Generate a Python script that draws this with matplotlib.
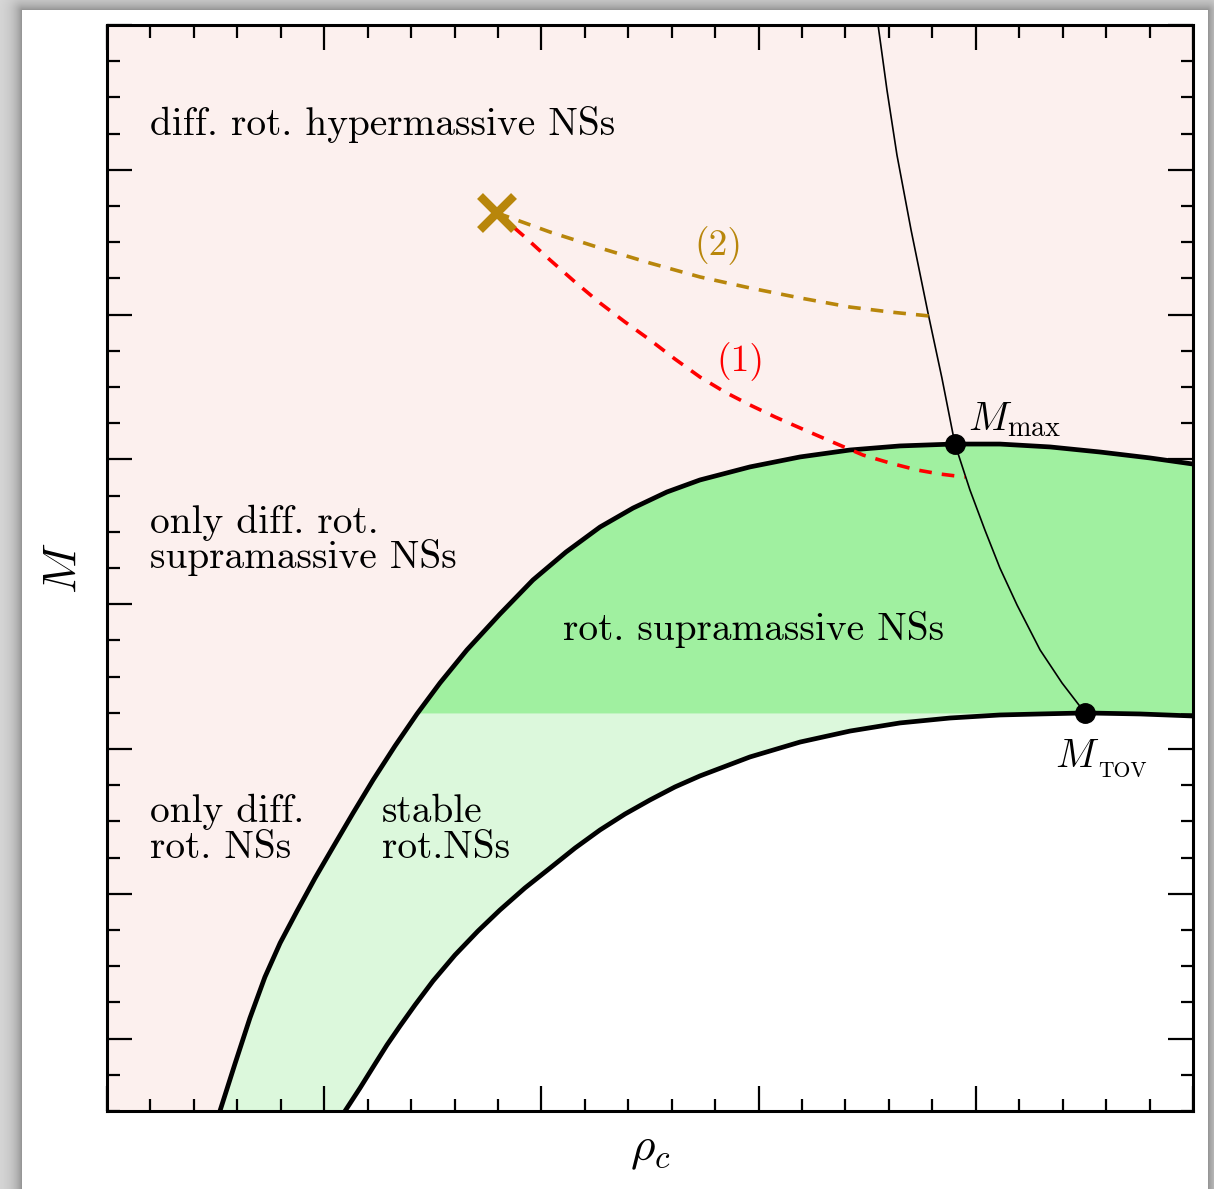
import matplotlib
matplotlib.use("Agg")
import matplotlib.pyplot as plt
import numpy as np

plt.rcParams["font.family"] = "serif"
plt.rcParams["font.serif"] = ["cmr10"]
plt.rcParams["mathtext.fontset"] = "cm"
plt.rcParams["axes.unicode_minus"] = False

# upper boundary: maximum mass of uniformly rotating stars
upper_x = [0.520, 0.589, 0.658, 0.727, 0.797, 0.875, 0.958, 1.041, 1.133,
           1.225, 1.326, 1.427, 1.533, 1.657, 1.809, 1.961, 2.113, 2.270, 2.422,
           2.578, 2.730, 2.960, 3.191, 3.421, 3.651, 3.895, 4.111, 4.342, 4.572,
           4.802, 5.000]
upper_y = [0.000, 0.325, 0.642, 0.925, 1.160, 1.381, 1.609, 1.823, 2.058,
           2.286, 2.521, 2.742, 2.956, 3.184, 3.432, 3.667, 3.860, 4.033, 4.164,
           4.275, 4.358, 4.448, 4.517, 4.565, 4.593, 4.606, 4.606, 4.586, 4.551,
           4.510, 4.468]

# lower boundary: non-rotating (TOV) sequence
lower_x = [1.096, 1.165, 1.234, 1.289, 1.349, 1.418, 1.501, 1.602, 1.708, 1.809,
           1.924, 2.040, 2.155, 2.270, 2.385, 2.500, 2.615, 2.730, 2.960, 3.191,
           3.421, 3.651, 3.881, 4.111, 4.296, 4.503, 4.756, 5.000]
lower_y = [0.000, 0.159, 0.325, 0.456, 0.587, 0.732, 0.898, 1.077, 1.243, 1.388,
           1.540, 1.678, 1.816, 1.941, 2.051, 2.148, 2.238, 2.314, 2.445, 2.548,
           2.624, 2.680, 2.714, 2.735, 2.742, 2.749, 2.742, 2.728]

# stability line joining M_max and M_TOV
thin_x = [3.550, 3.591, 3.637, 3.702, 3.780, 3.844, 3.904, 3.973, 4.042, 4.111,
          4.190, 4.296, 4.397, 4.503]
thin_y = [7.500, 7.051, 6.602, 6.084, 5.511, 5.062, 4.606, 4.289, 4.012, 3.750,
          3.494, 3.184, 2.956, 2.749]

# evolution paths (1) and (2)
path1_x = [1.796, 1.924, 2.040, 2.155, 2.270, 2.385, 2.500, 2.615, 2.730, 2.845,
           2.960, 3.076, 3.191, 3.329, 3.481, 3.605, 3.729, 3.835, 3.950]
path1_y = [6.202, 6.036, 5.877, 5.725, 5.580, 5.449, 5.325, 5.193, 5.069, 4.965,
           4.876, 4.793, 4.717, 4.627, 4.530, 4.475, 4.427, 4.399, 4.378]
path2_x = [1.796, 2.040, 2.270, 2.500, 2.730, 2.960, 3.191, 3.421, 3.605, 3.789]
path2_y = [6.202, 6.070, 5.960, 5.856, 5.760, 5.684, 5.615, 5.552, 5.518, 5.490]

m_tov = 2.749
mmax_x, mmax_y = 3.904, 4.606
tov_x, tov_y = 4.503, 2.749
start_x, start_y = 1.796, 6.202

pink = "#fcf0ee"
dark_green = "#a0f0a0"
light_green = "#dcf8dc"
gold = "#b8860b"

W, H = 1214, 1189
fig = plt.figure(figsize=(W / 100, H / 100), dpi=100)

# drop shadow behind the white card
yy, xx = np.mgrid[0:H, 0:W]
dx = np.maximum.reduce([22 - xx, np.zeros_like(xx), xx - 1207])
dy = np.maximum(10 - yy, 0)
d = np.hypot(dx, dy)
shade = np.where(d > 0, 0.86 - 0.3 * np.exp(-d / 9.0), 1.0)
fig.figimage(np.dstack([shade] * 3), 0, 0, origin="upper", zorder=-1)
fig.patch.set_alpha(0)

ax = fig.add_axes([107 / W, 1 - 1111 / H, 1086 / W, 1086 / H])
ax.set_facecolor(pink)

ax.fill(np.concatenate([upper_x, lower_x[::-1]]),
        np.concatenate([upper_y, lower_y[::-1]]),
        color=light_green, lw=0, zorder=1)
ax.fill_between(lower_x, 0, lower_y, color="white", lw=0, zorder=1)
uy = np.array(upper_y)
ax.fill_between(upper_x, m_tov, uy, where=uy >= m_tov, interpolate=True,
                color=dark_green, lw=0, zorder=2)

ax.plot(upper_x, upper_y, color="black", lw=3.4, zorder=4)
ax.plot(lower_x, lower_y, color="black", lw=3.4, zorder=4)
ax.plot(thin_x, thin_y, color="black", lw=1.2, zorder=4)

ax.plot(path2_x, path2_y, color=gold, lw=2.6, ls=(0, (3.5, 2.8)), zorder=5)
ax.plot(path1_x, path1_y, color="red", lw=2.6, ls=(0, (3.5, 2.8)), zorder=5)
ax.plot(start_x, start_y, marker="x", ms=25, mew=6, color=gold, zorder=6)

ax.plot([mmax_x, tov_x], [mmax_y, tov_y], ls="none", marker="o", ms=14,
        color="black", zorder=7)

fs = 28.3
ax.text(0.198, 6.740, "diff. rot. hypermassive NSs", fontsize=fs)
ax.text(0.198, 3.992, "only diff. rot.", fontsize=fs)
ax.text(0.198, 3.750, "supramassive NSs", fontsize=fs)
ax.text(0.198, 1.996, "only diff.", fontsize=fs)
ax.text(0.198, 1.747, "rot. NSs", fontsize=fs)
ax.text(1.266, 1.996, "stable", fontsize=fs, zorder=8)
ax.text(1.266, 1.747, "rot.NSs", fontsize=fs, zorder=8)
ax.text(2.099, 3.253, "rot. supramassive NSs", fontsize=fs, zorder=8)
ax.text(2.813, 5.974, "(2)", fontsize=27, color=gold, ha="center", va="center")
ax.text(2.914, 5.173, "(1)", fontsize=27, color="red", ha="center", va="center")
ax.text(3.964, 4.703, r"$M_{\mathrm{max}}$", fontsize=29, zorder=8)
ax.text(4.365, 2.376, r"$M$", fontsize=29, zorder=8)
ax.text(4.562, 2.307, "TOV", fontsize=15.5, zorder=8)

ax.set_xlim(0, 5)
ax.set_ylim(0, 7.5)
ax.set_xticks(np.arange(0, 5.01, 1))
ax.set_xticks(np.arange(0, 5.01, 0.2), minor=True)
ax.set_yticks(np.arange(0.5, 7.51, 1))
ax.set_yticks(np.arange(0, 7.51, 0.25), minor=True)
ax.tick_params(which="both", direction="in", top=True, right=True,
               labelbottom=False, labelleft=False, width=1.6)
ax.tick_params(which="major", length=18)
ax.tick_params(which="minor", length=9)
for s in ax.spines.values():
    s.set_linewidth(2.2)
    s.set_zorder(10)

ax.set_xlabel(r"$\rho_c$", fontsize=34, labelpad=14)
ax.set_ylabel(r"$M$", fontsize=34, labelpad=16)

fig.savefig("out.png", dpi=100)
